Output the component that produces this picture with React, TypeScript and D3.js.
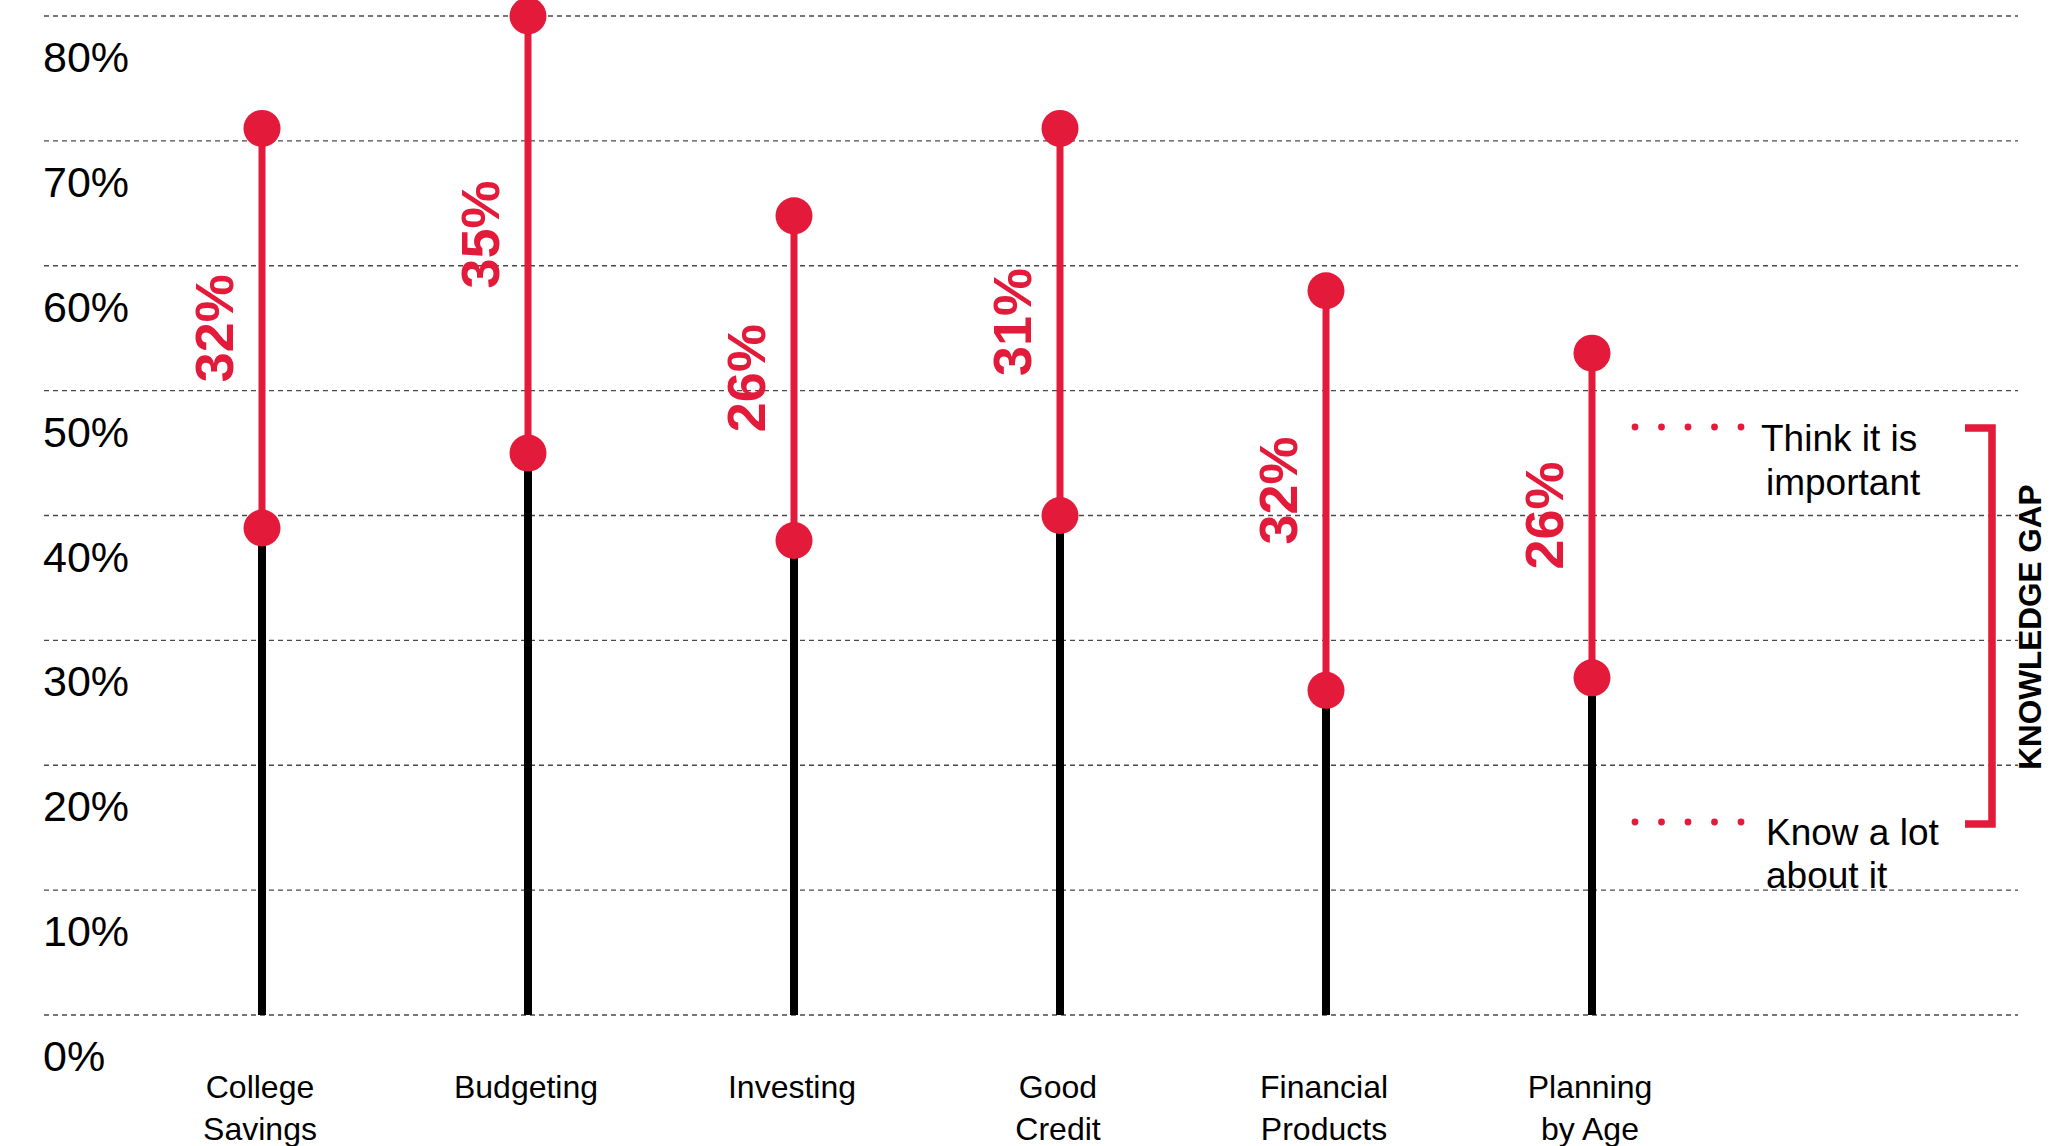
import React from "react";
import * as d3 from "d3";

const categories = ["College Savings", "Budgeting", "Investing", "Good Credit", "Financial Products", "Planning by Age"];
const categoryLines = [["College", "Savings"], ["Budgeting"], ["Investing"], ["Good", "Credit"], ["Financial", "Products"], ["Planning", "by Age"]];
const thinkImportant = [71, 80, 64, 71, 58, 53];
const knowALot = [39, 45, 38, 40, 26, 27];
const yTicks = [0, 10, 20, 30, 40, 50, 60, 70, 80];
const legendTop = ["Think it is", "important"];
const legendBottom = ["Know a lot", "about it"];
const bracketLabel = "KNOWLEDGE GAP";

const W = 2071;
const H = 1146;
const RED = "#e41a3b";
const FONT = "'Liberation Sans', Arial, Helvetica, sans-serif";

export default function App() {
  const y = d3.scaleLinear().domain([0, 80]).range([1015, 16]);
  const x = d3.scalePoint<string>().domain(categories).range([262, 1592]);
  const gridX1 = 44;
  const gridX2 = 2018;

  const legendDotsX = d3.range(5).map((i) => 1635 + i * 26.5);
  const topDotY = 427;
  const botDotY = 822;

  return (
    <svg
      width={W}
      height={H}
      viewBox={`0 0 ${W} ${H}`}
      style={{ position: "absolute", left: 0, top: 0, display: "block", background: "#fff" }}
    >
      <rect x={0} y={0} width={W} height={H} fill="#fff" />
      {/* grid lines */}
      {yTicks.map((t) => (
        <line
          key={"g" + t}
          x1={gridX1}
          x2={gridX2}
          y1={y(t)}
          y2={y(t)}
          stroke="#4a4a4a"
          strokeWidth={1.4}
          strokeDasharray="5,4"
        />
      ))}
      {/* y labels */}
      {yTicks.map((t) => (
        <text key={"yl" + t} x={43} y={y(t) + 56} fontFamily={FONT} fontSize={43} fill="#000">
          {t + "%"}
        </text>
      ))}
      {/* stems */}
      {categories.map((c, i) => {
        const cx = x(c)!;
        return (
          <g key={c}>
            <line x1={cx} x2={cx} y1={y(0)} y2={y(knowALot[i])} stroke="#000" strokeWidth={8} />
            <line x1={cx} x2={cx} y1={y(knowALot[i])} y2={y(thinkImportant[i])} stroke={RED} strokeWidth={7} />
            <circle cx={cx} cy={y(thinkImportant[i])} r={18.5} fill={RED} />
            <circle cx={cx} cy={y(knowALot[i])} r={18.5} fill={RED} />
            <text
              transform={`translate(${cx - 29},${(y(thinkImportant[i]) + y(knowALot[i])) / 2}) rotate(-90)`}
              textAnchor="middle"
              fontFamily={FONT}
              fontWeight="bold"
              fontSize={54}
              fill={RED}
            >
              {thinkImportant[i] - knowALot[i] + "%"}
            </text>
            {categoryLines[i].map((ln, j) => (
              <text
                key={j}
                x={cx - 2}
                y={1098 + j * 42}
                textAnchor="middle"
                fontFamily={FONT}
                fontSize={32}
                fill="#000"
              >
                {ln}
              </text>
            ))}
          </g>
        );
      })}
      {/* legend dots */}
      {legendDotsX.map((dx, i) => (
        <circle key={"td" + i} cx={dx} cy={topDotY} r={3.4} fill={RED} />
      ))}
      {legendDotsX.map((dx, i) => (
        <circle key={"bd" + i} cx={dx} cy={botDotY} r={3.4} fill={RED} />
      ))}
      {legendTop.map((ln, j) => (
        <text key={"lt" + j} x={j === 0 ? 1761 : 1766} y={451 + j * 44} fontFamily={FONT} fontSize={37} fill="#000">
          {ln}
        </text>
      ))}
      {legendBottom.map((ln, j) => (
        <text key={"lb" + j} x={1766} y={845 + j * 43} fontFamily={FONT} fontSize={37} fill="#000">
          {ln}
        </text>
      ))}
      {/* bracket */}
      <path d="M1965,428 H1992 V824 H1965" fill="none" stroke={RED} strokeWidth={7.5} />
      <text
        transform={`translate(2041,627) rotate(-90)`}
        textAnchor="middle"
        fontFamily={FONT}
        fontWeight="bold"
        fontSize={31.5}
        fill="#000"
      >
        {bracketLabel}
      </text>
    </svg>
  );
}
